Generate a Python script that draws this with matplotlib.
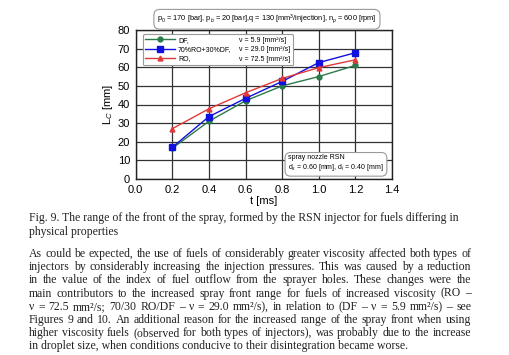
import matplotlib
matplotlib.use("Agg")
import matplotlib.pyplot as plt
from matplotlib.lines import Line2D

plt.rcParams['font.family'] = ['Liberation Sans', 'DejaVu Sans']
plt.rcParams['mathtext.fontset'] = 'custom'
plt.rcParams['mathtext.rm'] = 'Liberation Sans'
plt.rcParams['mathtext.it'] = 'Liberation Sans:italic'

# data
t = [0.2, 0.4, 0.6, 0.8, 1.0, 1.2]
lc_df = [16.5, 31, 42, 50, 55, 61]
lc_mix = [17, 33.5, 43.3, 52.4, 62.5, 67.8]
lc_ro = [27, 37.7, 46.3, 54, 59.8, 64]

names = ["DF,", "70%RO+30%DF,", "RO,"]
visc = ["ν = 5.9 [mm²/s]", "ν = 29.0 [mm²/s]", "ν = 72.5 [mm²/s]"]
colors = ["#2a7a4a", "#1010e0", "#e03a3a"]
markers = ["o", "s", "^"]
msizes = [3.5, 5, 3.5]

caption = [
    "Fig. 9. The range of the front of the spray, formed by the RSN injector for fuels differing in",
    "physical properties",
]
body = [
    "As could be expected, the use of fuels of considerably greater viscosity affected both types of",
    "injectors by considerably increasing the injection pressures. This was caused by a reduction",
    "in the value of the index of fuel outflow from the sprayer holes. These changes were the",
    "main contributors to the increased spray front range for fuels of increased viscosity (RO –",
    "ν = 72.5 mm²/s; 70/30 RO/DF – ν = 29.0 mm²/s), in relation to (DF – ν = 5.9 mm²/s) – see",
    "Figures 9 and 10. An additional reason for the increased range of the spray front when using",
    "higher viscosity fuels (observed for both types of injectors), was probably due to the increase",
    "in droplet size, when conditions conducive to their disintegration became worse.",
]

W, H = 509, 355
fig = plt.figure(figsize=(W / 100, H / 100), dpi=100)
ax = fig.add_axes([135.7 / W, 1 - 179 / H, 256.3 / W, 149 / H])

series = [lc_df, lc_mix, lc_ro]
handles = []
for ys, c, m, ms in zip(series, colors, markers, msizes):
    h, = ax.plot(t, ys, color=c, marker=m, markersize=ms, linewidth=1.0)
    handles.append(h)

ax.set_xlim(0, 1.4)
ax.set_ylim(0, 80)
ax.set_xticks([0.0, 0.2, 0.4, 0.6, 0.8, 1.0, 1.2, 1.4])
ax.set_yticks(range(0, 81, 10))
ax.xaxis.set_major_formatter(matplotlib.ticker.FormatStrFormatter('%.1f'))
ax.tick_params(length=0, labelsize=8, pad=4)
ax.grid(True, color="#333333", linewidth=0.9)
ax.set_axisbelow(True)
for s in ax.spines.values():
    s.set_color("#222222")
    s.set_linewidth(1.0)
ax.set_xlabel("t [ms]", fontsize=8, labelpad=1)
ax.set_ylabel("L$_C$ [mm]", fontsize=8, labelpad=2)

blank = [Line2D([], [], linestyle='none') for _ in visc]
leg = ax.legend(handles + blank, names + visc, ncol=2, loc='upper left',
                bbox_to_anchor=(0.015, 0.995), fontsize=5, handlelength=4.3,
                handletextpad=0.4, labelspacing=0.35, columnspacing=-3.6,
                borderpad=0.35, fancybox=True, framealpha=1, edgecolor="#999999")
leg.get_frame().set_linewidth(0.8)

ax.text(0.512, 1.072, "p$_0$ = 170 [bar], p$_b$ = 20 [bar],q = 130 [mm$^3$/injection], n$_p$ = 600 [rpm]",
        transform=ax.transAxes, ha='center', va='center', fontsize=5.3,
        bbox=dict(boxstyle='round,pad=0.45,rounding_size=0.8', fc='white', ec='#999999', lw=0.8))
ax.text(0.595, 0.04, "spray nozzle RSN\nd$_s$ = 0.60 [mm], d$_i$ = 0.40 [mm]",
        transform=ax.transAxes, ha='left', va='bottom', fontsize=5, linespacing=1.2,
        bbox=dict(boxstyle='round,pad=0.45,rounding_size=0.8', fc='white', ec='#999999', lw=0.8))

# caption and body text (serif)
serif = ['Liberation Serif', 'DejaVu Serif']
fs = 8.5
x0, x1 = 29, 471
base = 3.0  # pixels from line centre down to baseline
for i, line in enumerate(caption):
    fig.text(x0 / W, 1 - (218.5 + base + i * 13.3) / H, line, family=serif, fontsize=fs,
             va='baseline', ha='left', color='#222222')

renderer = fig.canvas.get_renderer()
for i, line in enumerate(body):
    y = 1 - (254 + base + i * 13.2) / H
    if i == len(body) - 1:
        fig.text(x0 / W, y, line, family=serif, fontsize=fs, va='baseline', color='#222222')
        continue
    words = line.split(" ")
    objs = [fig.text(0, y, w, family=serif, fontsize=fs, va='baseline', color='#222222') for w in words]
    widths = [o.get_window_extent(renderer).width for o in objs]
    gap = (x1 - x0 - sum(widths)) / (len(words) - 1)
    x = x0
    for o, w in zip(objs, widths):
        o.set_x(x / W)
        x += w + gap

fig.savefig("out.png", dpi=100)
